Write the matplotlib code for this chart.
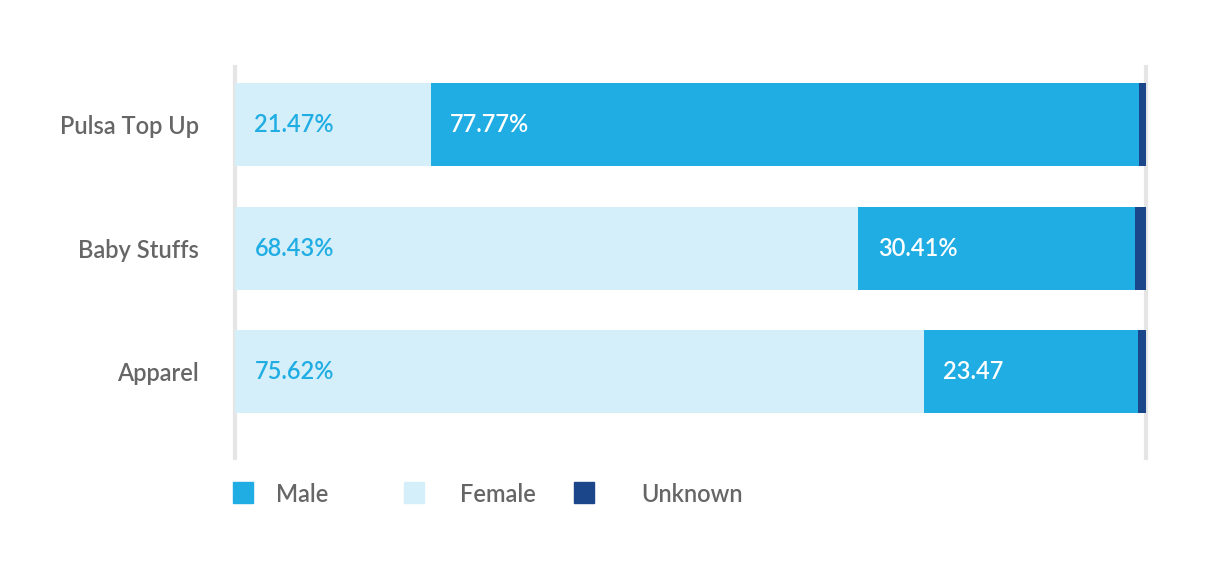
import matplotlib.pyplot as plt
from matplotlib.patches import Rectangle

categories = ["Pulsa Top Up", "Baby Stuffs", "Apparel"]
female = [21.47, 68.43, 75.62]
male = [77.77, 30.41, 23.47]
unknown = [0.76, 1.16, 0.91]
female_labels = ["21.47%", "68.43%", "75.62%"]
male_labels = ["77.77%", "30.41%", "23.47"]

c_male = "#1fade3"
c_female = "#d4eff9"
c_unknown = "#1b4689"
c_text = "#666666"

plt.rcParams["font.family"] = ["Lato", "DejaVu Sans"]
plt.rcParams["font.weight"] = "semibold"
fs = 17

fig = plt.figure(figsize=(12.08, 5.83), dpi=100)
ax = fig.add_axes([235 / 1208, 1 - 458 / 583, 911 / 1208, 391 / 583])

y = list(range(len(categories)))
ax.barh(y, female, height=0.672, color=c_female, zorder=2)
ax.barh(y, male, left=female, height=0.672, color=c_male, zorder=2)
left_unknown = [f + m for f, m in zip(female, male)]
ax.barh(y, unknown, left=left_unknown, height=0.672, color=c_unknown, zorder=2)

for i in y:
    ax.annotate(female_labels[i], (0, i), xytext=(14, 0), textcoords="offset points",
                va="center", ha="left", color=c_male, fontsize=fs)
    ax.annotate(male_labels[i], (female[i], i), xytext=(14, 0), textcoords="offset points",
                va="center", ha="left", color="white", fontsize=fs)

ax.set_xlim(0, 100)
ax.set_ylim(2.70, -0.466)
ax.set_xticks([0, 100])
ax.set_xticklabels([])
ax.grid(axis="x", color="#e5e5e5", linewidth=3, zorder=1)
for gl in ax.get_xgridlines():
    gl.set_clip_on(False)
ax.set_axisbelow(True)
ax.set_yticks(y)
ax.set_yticklabels(categories, fontsize=fs, color=c_text)
ax.tick_params(axis="both", length=0)
ax.tick_params(axis="y", pad=26)
for s in ax.spines.values():
    s.set_visible(False)

# legend: squares and centred names, placed as in the original
legend_names = ["Male", "Female", "Unknown"]
legend_colors = [c_male, c_female, c_unknown]
square_x = [233, 404, 574]
text_cx = [302, 498, 692]
for name, col, sx, tx in zip(legend_names, legend_colors, square_x, text_cx):
    fig.add_artist(Rectangle((sx / 1208, 1 - 503 / 583), 20 / 1208, 21 / 583,
                             transform=fig.transFigure, color=col))
    fig.text(tx / 1208, 1 - 494 / 583, name, fontsize=fs, color=c_text,
             va="center", ha="center")

fig.savefig("out.png", dpi=100)
